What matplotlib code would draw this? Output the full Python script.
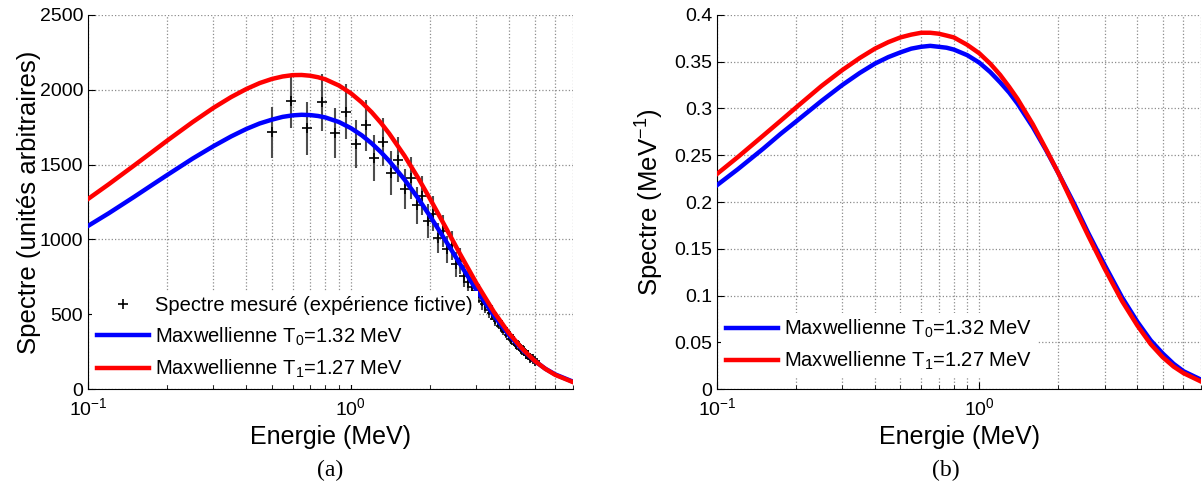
import matplotlib
matplotlib.use("Agg")
import matplotlib.pyplot as plt
from matplotlib.ticker import FixedLocator, LogLocator, NullFormatter

plt.rcParams['font.family'] = ['Liberation Sans', 'DejaVu Sans']
plt.rcParams['mathtext.fontset'] = 'custom'
plt.rcParams['mathtext.rm'] = 'Liberation Sans'
plt.rcParams['mathtext.it'] = 'Liberation Sans:italic'
plt.rcParams['mathtext.default'] = 'regular'

# energies (MeV) where the curves were read
energy = [0.1, 0.12, 0.15, 0.175, 0.2, 0.25, 0.3, 0.35, 0.4, 0.45, 0.5, 0.55, 0.6,
          0.65, 0.7, 0.75, 0.8, 0.9, 1.0, 1.1, 1.2, 1.3, 1.4, 1.6, 1.8, 2.0, 2.3,
          2.6, 3.0, 3.5, 4.0, 4.5, 5.0, 5.5, 6.0, 7.0]

# panel (a): arbitrary units
maxw0_a = [1090, 1175, 1285, 1363, 1430, 1540, 1623, 1688, 1738, 1775, 1800, 1819,
           1829, 1833, 1831, 1825, 1815, 1785, 1744, 1696, 1642, 1584, 1524, 1400,
           1276, 1156, 988, 837, 664, 491, 359, 261, 188, 135, 97, 49]
maxw1_a = [1270, 1369, 1495, 1583, 1660, 1784, 1879, 1951, 2005, 2045, 2072, 2089,
           2098, 2099, 2094, 2084, 2070, 2029, 1977, 1916, 1850, 1780, 1707, 1559,
           1413, 1272, 1077, 904, 709, 516, 372, 267, 189, 134, 94, 46]

# panel (b): normalised, MeV^-1
maxw0_b = [0.218, 0.235, 0.257, 0.273, 0.286, 0.308, 0.325, 0.338, 0.348, 0.355,
           0.360, 0.364, 0.366, 0.367, 0.366, 0.365, 0.363, 0.357, 0.349, 0.339,
           0.328, 0.317, 0.305, 0.280, 0.255, 0.231, 0.198, 0.167, 0.133, 0.098,
           0.072, 0.052, 0.038, 0.027, 0.019, 0.010]
maxw1_b = [0.230, 0.248, 0.271, 0.287, 0.301, 0.324, 0.341, 0.354, 0.364, 0.371,
           0.376, 0.379, 0.381, 0.381, 0.380, 0.378, 0.376, 0.368, 0.359, 0.348,
           0.336, 0.323, 0.310, 0.283, 0.256, 0.231, 0.195, 0.164, 0.129, 0.094,
           0.068, 0.048, 0.034, 0.024, 0.017, 0.008]

# measured (fictive) spectrum
e_meas = [0.50, 0.59, 0.68, 0.78, 0.87, 0.96, 1.05, 1.14, 1.23, 1.33, 1.42, 1.51,
          1.60, 1.69, 1.78, 1.87, 1.97, 2.06, 2.15, 2.24, 2.33, 2.42, 2.52, 2.61,
          2.70, 2.79, 2.88, 2.98, 3.07, 3.16, 3.25, 3.34, 3.43, 3.53, 3.62, 3.71,
          3.80, 3.89, 3.99, 4.08, 4.17, 4.26, 4.35, 4.45, 4.54, 4.63, 4.72, 4.82,
          4.91, 5.00]
s_meas = [1715, 1922, 1742, 1916, 1711, 1853, 1638, 1762, 1544, 1651, 1444, 1533,
          1338, 1411, 1229, 1293, 1122, 1171, 1011, 1055, 933, 960, 833, 855, 755,
          715, 680, 655, 640, 590, 565, 530, 510, 470, 452, 420, 405, 378, 358, 335,
          320, 298, 285, 265, 252, 235, 224, 208, 198, 185]
s_err = [172, 178, 175, 189, 166, 183, 161, 172, 155, 161, 144, 150, 134, 141, 123,
         129, 112, 117, 101, 106, 93, 96, 83, 86, 76, 72, 68, 66, 64, 59, 57, 53, 51,
         47, 45, 42, 41, 38, 36, 34, 32, 30, 29, 27, 25, 24, 22, 21, 20, 19]

yticks_a = [0, 500, 1000, 1500, 2000, 2500]
yticks_b = [0, 0.05, 0.1, 0.15, 0.2, 0.25, 0.3, 0.35, 0.4]
yticklabels_b = ['0', '0.05', '0.1', '0.15', '0.2', '0.25', '0.3', '0.35', '0.4']

lab0 = 'Maxwellienne T$_0$=1.32 MeV'
lab1 = 'Maxwellienne T$_1$=1.27 MeV'

fig = plt.figure(figsize=(12.02, 4.9), dpi=100)
ax1 = fig.add_axes([0.0732, 0.2061, 0.4035, 0.7633])
ax2 = fig.add_axes([0.5965, 0.2061, 0.4027, 0.7633])


def style(ax):
    ax.set_xscale('log')
    ax.set_xlim(0.1, 7)
    ax.xaxis.set_minor_locator(LogLocator(base=10, subs=range(2, 10)))
    ax.xaxis.set_minor_formatter(NullFormatter())
    ax.spines['top'].set_visible(False)
    ax.spines['right'].set_visible(False)
    ax.tick_params(which='both', direction='in', labelsize=14, top=False, right=False)
    ax.tick_params(which='major', length=5)
    ax.tick_params(which='minor', length=3)
    ax.tick_params(axis='x', pad=6)
    ax.grid(True, which='major', axis='both', linestyle=':', color='0.55', lw=0.9)
    ax.grid(True, which='minor', axis='x', linestyle=':', color='0.55', lw=0.9)
    ax.set_axisbelow(True)
    ax.set_xlabel('Energie (MeV)', fontsize=18)
    ax.xaxis.set_label_coords(0.5, -0.095)


leg_kw = dict(loc='lower left', fontsize=14.5, frameon=True, fancybox=False,
              edgecolor='none', framealpha=1, handlelength=2.6, handletextpad=0.3,
              borderpad=0.25, labelspacing=0.5, borderaxespad=0.2)

style(ax1)
ax1.errorbar(e_meas, s_meas, yerr=s_err, fmt='none', ecolor='0.3',
             elinewidth=1.5, zorder=2)
ax1.plot(e_meas, s_meas, '+', color='k', markersize=7, mew=1.2,
         label='Spectre mesuré (expérience fictive)', zorder=2)
ax1.plot(energy, maxw0_a, color='#0000ff', lw=3.2, label=lab0, zorder=3)
ax1.plot(energy, maxw1_a, color='#ff0000', lw=3.2, label=lab1, zorder=4)
ax1.set_ylim(0, 2500)
ax1.yaxis.set_major_locator(FixedLocator(yticks_a))
ax1.set_ylabel('Spectre (unités arbitraires)', fontsize=18.5)
ax1.yaxis.set_label_coords(-0.097, 0.5)
ax1.legend(bbox_to_anchor=(0.0, 0.0), **leg_kw)

style(ax2)
ax2.plot(energy, maxw0_b, color='#0000ff', lw=3.2, label=lab0, zorder=3)
ax2.plot(energy, maxw1_b, color='#ff0000', lw=3.2, label=lab1, zorder=4)
ax2.set_ylim(0, 0.4)
ax2.yaxis.set_major_locator(FixedLocator(yticks_b))
ax2.set_yticklabels(yticklabels_b)
ax2.set_ylabel('Spectre (MeV$^{-1}$)', fontsize=18.5)
ax2.yaxis.set_label_coords(-0.105, 0.5)
ax2.legend(bbox_to_anchor=(0.0, 0.02), **leg_kw)

fig.text(0.2749, 0.04, '(a)', ha='center', va='center', fontsize=17,
         family='Liberation Serif')
fig.text(0.787, 0.04, '(b)', ha='center', va='center', fontsize=17,
         family='Liberation Serif')

fig.savefig('out.png', dpi=100)
